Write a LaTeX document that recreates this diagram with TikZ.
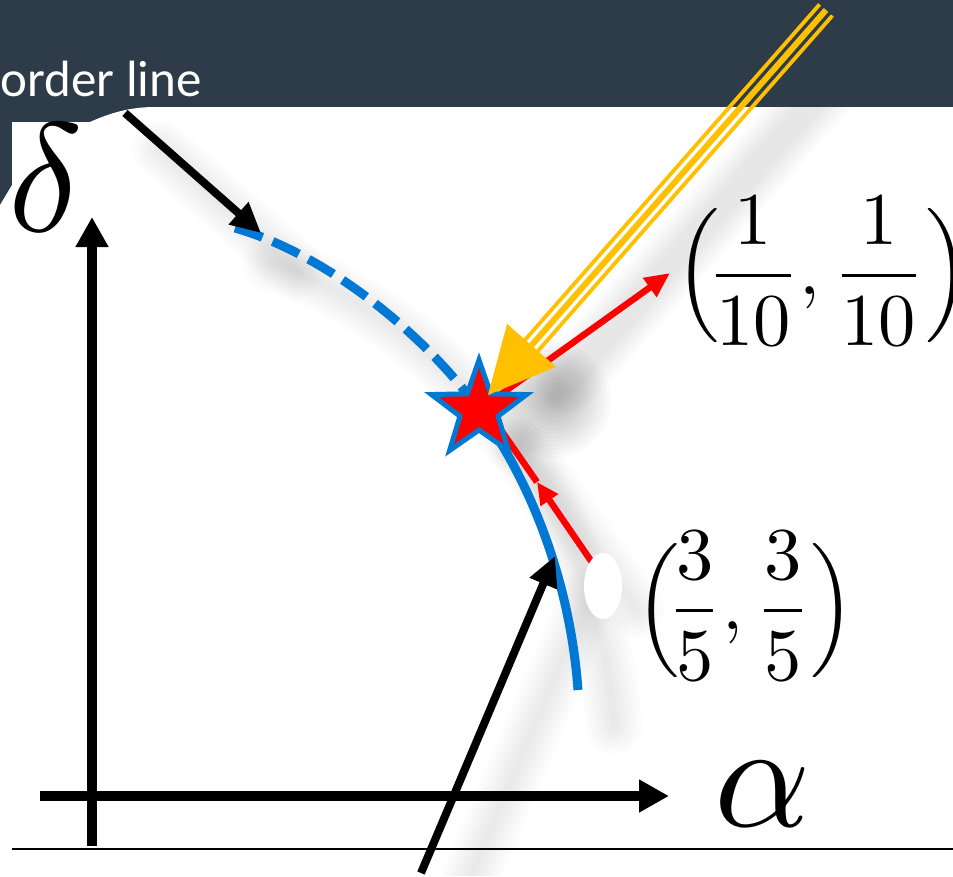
\documentclass[tikz,border=0pt]{standalone}
\usepackage{graphicx}
\usepackage{fontspec}
\newfontfamily\calib{Carlito}
\usetikzlibrary{arrows.meta,shapes.geometric,calc}
\definecolor{board}{RGB}{45,60,72}
\definecolor{curveblue}{RGB}{0,120,212}
\definecolor{starred}{RGB}{255,0,0}
\definecolor{gold}{RGB}{255,192,0}
\tikzset{
  axisline/.style={line width=10pt, -{Triangle[length=30pt,width=31pt]}},
  pointer/.style={line width=8pt, -{Triangle[length=30pt,width=28pt]}},
  redarrow/.style={draw=starred, line width=6.5pt},
  bluecurve/.style={draw=curveblue, line width=9pt},
  sh/.style={draw=black, line cap=round, line join=round, opacity=0.011,
             transform canvas={shift={(36,36)}}},
}
\def\panelpath{(0,876) -- (0,205) -- (12,185) -- (12,122) -- (90,122)
  .. controls (110,113) and (130,107) .. (155,107) -- (953,107) -- (953,876) -- cycle}
\begin{document}
\begin{tikzpicture}[x=1pt,y=-1pt]
\useasboundingbox (0,0) rectangle (953,876);
% background and white panel
\fill[board] (0,0) rectangle (953,876);
\fill[white] \panelpath;

% named points
\coordinate (bl1) at (125,113);
\coordinate (bl2) at (261,233);
\coordinate (bt1) at (421,873);
\coordinate (bt2) at (555,556);
\coordinate (dashA) at (235,228);
\coordinate (S) at (479,410);
\coordinate (curveEnd) at (578,690);
\coordinate (yTop) at (826,10);
\coordinate (yBase) at (531.5,345.4);
\coordinate (yTip) at (488,395);
\coordinate (r1tip) at (670,273);
\coordinate (r2s) at (600,574);
\coordinate (r2m) at (537,482);
\coordinate (r2e) at (487,410);
\coordinate (vax0) at (92,846);
\coordinate (vax1) at (92,217);
\coordinate (hax0) at (40,796);
\coordinate (hax1) at (669,796);
\coordinate (base0) at (12,849);
\coordinate (base1) at (953,849);

% soft shadows, clipped to the white panel
\begin{scope}
\clip \panelpath;
\foreach \w in {56,48,40,32,24,16,8} {
  \draw[sh, line width=\w pt] (bl1) -- (bl2);
  \draw[sh, line width=\w pt] (bt1) -- (bt2);
  \draw[sh, line width=\w pt] (r2s) -- (r2e);
  \draw[sh, line width=\w pt] (S) .. controls (530,480) and (570,580) .. (curveEnd);
  \draw[sh, line width=\w pt] (dashA) .. controls (330,255) and (430,340) .. (S);
}
\foreach \w in {64,56,48,40,32,24} {
  \draw[sh, opacity=0.016, line width=\w pt] (yTop) -- (yBase);
}
\foreach \r in {58,54,50,46,42,38,34,30,26,22,18,14,10,6} {
  \fill[black, opacity=0.02, transform canvas={shift={(36,38)}}] (517,362) circle (\r);
}
\end{scope}

% base line and axes
\draw[line width=1.5pt] (base0) -- (base1);
\draw[axisline] (vax0) -- (vax1);
\draw[axisline] (hax0) -- (hax1);

% border curve
\draw[bluecurve, dash pattern=on 29pt off 11pt] (dashA) .. controls (330,255) and (430,340) .. (S);
\draw[bluecurve] (S) .. controls (530,480) and (570,580) .. (curveEnd);

% red arrows
\draw[redarrow, -{Triangle[length=25pt,width=22pt]}] (S) -- (r1tip);
\draw[redarrow, -{Triangle[length=22pt,width=20pt]}] (r2s) -- (r2m);
\draw[redarrow] (r2m) -- (r2e);

% star
\node[star, star points=5, star point ratio=2.5, minimum size=100pt, inner sep=0pt,
      fill=starred, draw=curveblue, line width=5pt] (star) at (S) {};

% yellow triple arrow
\draw[gold, line width=6pt] (yTop) -- (yBase);
\draw[gold, line width=3.8pt] ($(yTop)+(6.4,5.6)$) -- ($(yBase)+(6.4,5.6)$);
\draw[gold, line width=3.8pt] ($(yTop)-(6.4,5.6)$) -- ($(yBase)-(6.4,5.6)$);
\fill[gold] (yTip) -- ($(yBase)+(24.4,21.5)$) -- ($(yBase)-(24.4,21.5)$) -- cycle;

% black pointers
\draw[pointer] (bl1) -- (bl2);
\draw[pointer] (bt1) -- (bt2);

% white dot
\node[ellipse, fill=white, minimum width=38pt, minimum height=66pt, inner sep=0pt] (dot) at (603,586) {};

% labels
\node[inner sep=0pt, anchor=base west] (dlt) at (8,231) {\scalebox{15.5}{$\delta$}};
\node[inner sep=0pt, anchor=base west] (alp) at (714,826) {\scalebox{15}{$\alpha$}};
\node[inner sep=0pt, anchor=base west] (p1) at (675,294.6) {\scalebox{7.45}{$\displaystyle\Big(\!\frac{1}{10},\frac{1}{10}\Big)$}};
\node[inner sep=0pt, anchor=base west] (p2) at (635,629.6) {\scalebox{7.45}{$\displaystyle\Big(\!\frac{3}{5},\frac{3}{5}\Big)$}};
\node[inner sep=0pt, anchor=base east, text=white, font=\calib\fontsize{51}{51}\selectfont] (lbl) at (202,96) {order line};
\end{tikzpicture}
\end{document}
